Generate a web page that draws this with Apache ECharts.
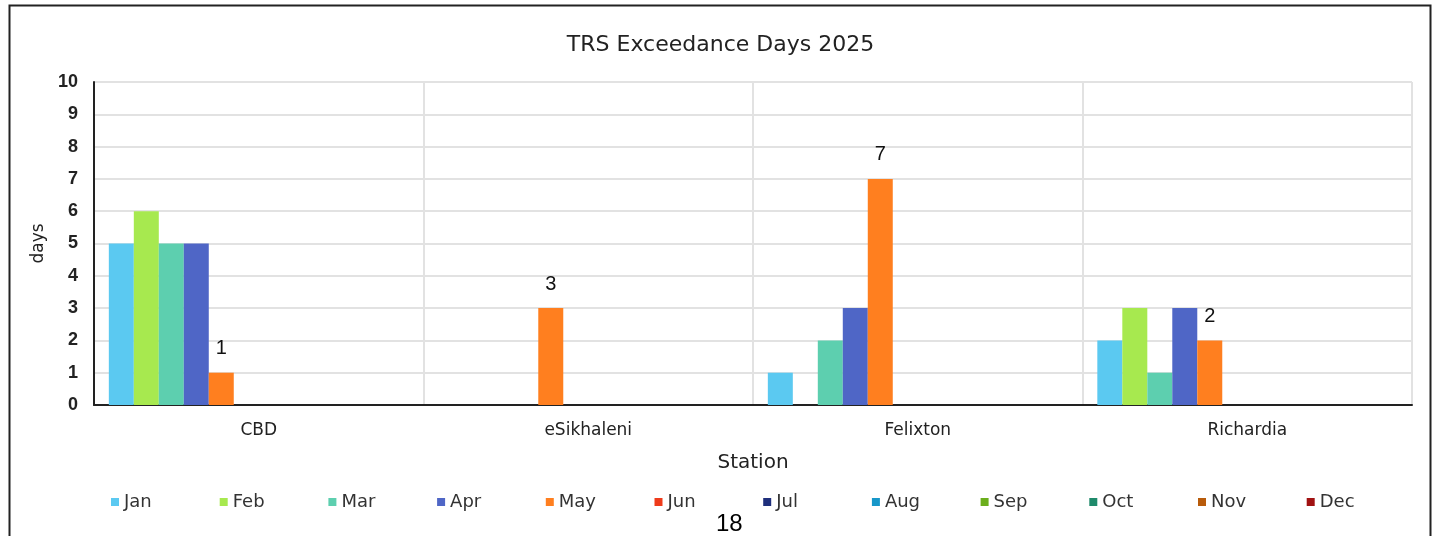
<!DOCTYPE html>
<html><head><meta charset="utf-8">
<script src="https://cdn.jsdelivr.net/npm/echarts@6/dist/echarts.min.js"></script>
<style>html,body{margin:0;padding:0;background:#fff}#c{width:1441px;height:536px}</style>
</head><body><div id="c"></div>
<script>
const stations = ['CBD','eSikhaleni','Felixton','Richardia'];
const months = ['Jan','Feb','Mar','Apr','May','Jun','Jul','Aug','Sep','Oct','Nov','Dec'];
const jan = [5, 0, 1, 2];
const feb = [6, 0, 0, 3];
const mar = [5, 0, 2, 1];
const apr = [5, 0, 3, 3];
const may = [1, 3, 7, 2];
const jun = [0, 0, 0, 0];
const jul = [0, 0, 0, 0];
const aug = [0, 0, 0, 0];
const sep = [0, 0, 0, 0];
const oct = [0, 0, 0, 0];
const nov = [0, 0, 0, 0];
const dec = [0, 0, 0, 0];
const yTicks = [0,1,2,3,4,5,6,7,8,9,10];
const colors = ['#5BC9F1','#A7E94F','#5DCFAF','#4F66C6','#FF7F1F','#EE3B1B','#1F2F7C','#1797C9','#6BAE1C','#1F8A6B','#B85B0B','#A11212'];
const values = [jan,feb,mar,apr,may,jun,jul,aug,sep,oct,nov,dec];
const labelled = {'May': true};

const chart = echarts.init(document.getElementById('c'));
const series = months.map((m, i) => ({
  name: m, type: 'bar', data: values[i],
  barGap: '0%', barCategoryGap: '9%',
  itemStyle: { color: colors[i] },
  label: labelled[m] ? {
    show: true, position: 'top', distance: 14,
    color: '#111', fontSize: 20, fontFamily: 'Liberation Sans',
    formatter: p => p.value > 0 ? String(p.value) : ''
  } : { show: false }
}));
const legends = months.map((m, i) => ({
  data: [m], bottom: 20, left: 106 + i * 108.7,
  itemWidth: 8, itemHeight: 8, itemGap: 0, icon: 'rect',
  textStyle: { fontSize: 18, color: '#333', fontFamily: 'DejaVu Sans' }
}));
chart.setOption({
  animation: false,
  textStyle: { fontFamily: 'DejaVu Sans' },
  title: { text: 'TRS Exceedance Days 2025', left: 'center', top: 29,
    textStyle: { fontSize: 22, fontWeight: 'normal', color: '#222', fontFamily: 'DejaVu Sans' } },
  legend: legends,
  grid: { left: 94, right: 29, top: 82, bottom: 131, containLabel: false },
  xAxis: {
    type: 'category', data: stations,
    name: 'Station', nameLocation: 'middle', nameGap: 48,
    nameTextStyle: { fontSize: 20, color: '#222', fontFamily: 'DejaVu Sans' },
    axisLine: { lineStyle: { color: '#222', width: 2 } },
    axisTick: { show: false },
    axisLabel: { fontSize: 17, color: '#222', margin: 17, fontFamily: 'DejaVu Sans' },
    splitLine: { show: true, lineStyle: { color: '#e2e2e2', width: 2 } }
  },
  yAxis: {
    type: 'value', min: 0, max: 10, interval: 1,
    name: 'days', nameLocation: 'middle', nameGap: 47, nameRotate: 90,
    nameTextStyle: { fontSize: 17, color: '#222', fontFamily: 'DejaVu Sans' },
    axisLine: { show: true, lineStyle: { color: '#222', width: 2 } },
    axisTick: { show: false },
    axisLabel: { fontSize: 18, color: '#222', fontWeight: 'bold', margin: 16, fontFamily: 'Liberation Sans',
      formatter: v => yTicks.includes(v) ? String(v) : '' },
    splitLine: { show: true, lineStyle: { color: '#e2e2e2', width: 2 } }
  },
  graphic: [
    { type: 'rect', shape: { x: 9.5, y: 5.5, width: 1421, height: 560 },
      style: { fill: 'none', stroke: '#222', lineWidth: 2 }, silent: true },
    { type: 'text', left: 716, top: 512,
      style: { text: '18', fontSize: 24, fill: '#000', fontFamily: 'Liberation Sans' } }
  ],
  series: series
});
</script></body></html>
